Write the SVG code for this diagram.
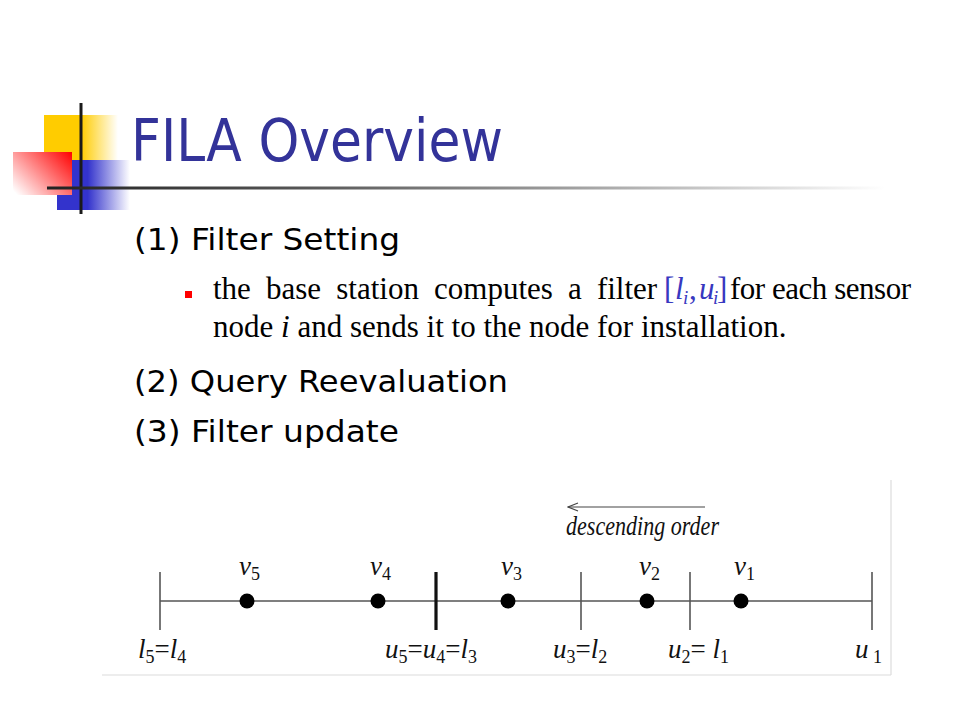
<svg xmlns="http://www.w3.org/2000/svg" width="960" height="720" viewBox="0 0 960 720">
<defs>
<style>
.title{font-family:"DejaVu Sans","Liberation Sans",sans-serif;font-size:58px;fill:#333399}
.head{font-family:"DejaVu Sans","Liberation Sans",sans-serif;font-size:30px;fill:#000}
.body{font-family:"Liberation Serif","Times New Roman",serif;font-size:31px;fill:#000}
.it{font-style:italic}
.blue{fill:#3838c0}
.bsub{font-size:19px;font-style:italic}
.lab{font-family:"Liberation Serif","Times New Roman",serif;font-size:27px;font-style:italic;fill:#111}
.sub{font-size:18px;font-style:normal}
.up{font-style:normal}
.axis{stroke:#555;stroke-width:1.6;fill:none}
.tick{stroke:#555;stroke-width:1.6}
.thick{stroke:#111;stroke-width:3.2}
.dot{fill:#000}
</style>
<linearGradient id="gY" gradientUnits="userSpaceOnUse" x1="44" y1="0" x2="118" y2="0">
<stop offset="0" stop-color="#FFCC00"/><stop offset="0.5" stop-color="#FFCC00"/><stop offset="1" stop-color="#FFCC00" stop-opacity="0"/>
</linearGradient>
<linearGradient id="gB" gradientUnits="userSpaceOnUse" x1="57" y1="0" x2="130" y2="0">
<stop offset="0" stop-color="#3333CC"/><stop offset="0.42" stop-color="#3333CC"/><stop offset="1" stop-color="#3333CC" stop-opacity="0"/>
</linearGradient>
<linearGradient id="gR" gradientUnits="userSpaceOnUse" x1="72" y1="152" x2="22" y2="200">
<stop offset="0" stop-color="#FF0000"/><stop offset="1" stop-color="#FFFFFF"/>
</linearGradient>
<linearGradient id="gL" gradientUnits="userSpaceOnUse" x1="47" y1="0" x2="885" y2="0">
<stop offset="0" stop-color="#222"/><stop offset="0.3" stop-color="#555"/><stop offset="0.6" stop-color="#999"/><stop offset="0.85" stop-color="#d8d8d8"/><stop offset="1" stop-color="#fff"/>
</linearGradient>
<marker id="open" viewBox="0 0 12 10" refX="11" refY="5" markerWidth="12" markerHeight="10" markerUnits="userSpaceOnUse" orient="auto">
<path d="M1,1 L11,5 L1,9" fill="none" stroke="#444" stroke-width="1.2"/>
</marker>
</defs>
<rect width="960" height="720" fill="#fff"/>

<g id="logo">
<rect x="44" y="115" width="74" height="45" fill="url(#gY)"/>
<rect x="57" y="160" width="73" height="50" fill="url(#gB)"/>
<rect x="13" y="152" width="59" height="43" fill="url(#gR)"/>
<line x1="81" y1="103" x2="81" y2="214" stroke="#1a1a1a" stroke-width="3"/>
<line x1="47" y1="188" x2="885" y2="188" stroke="url(#gL)" stroke-width="3"/>
</g>

<g id="title">
<text class="title" x="131" y="161" textLength="372" lengthAdjust="spacingAndGlyphs">FILA Overview</text>
</g>

<g id="step1">
<text class="head" x="134" y="250" textLength="266" lengthAdjust="spacingAndGlyphs">(1) Filter Setting</text>
</g>
<g id="bullet">
<rect x="185" y="291" width="7" height="7" fill="#FF0000"/>
<text class="body" x="213" y="299" word-spacing="7.4">the base station computes a filter</text>
<text class="body blue" y="299"><tspan x="664">[</tspan><tspan class="it" x="675">l</tspan><tspan class="bsub" x="683" dy="5">i</tspan><tspan x="689" dy="-5">,</tspan><tspan class="it" x="699">u</tspan><tspan class="bsub" x="713" dy="5">i</tspan><tspan x="717" dy="-5">]</tspan></text>
<text class="body" x="730" y="299" textLength="181" lengthAdjust="spacing">for each sensor</text>
<text class="body" x="213" y="337" font-size="31.5">node <tspan class="it">i</tspan> and sends it to the node for installation.</text>
</g>
<g id="step2">
<text class="head" x="134" y="392" textLength="374" lengthAdjust="spacingAndGlyphs">(2) Query Reevaluation</text>
</g>
<g id="step3">
<text class="head" x="134" y="442" textLength="265" lengthAdjust="spacingAndGlyphs">(3) Filter update</text>
</g>

<g id="figure-frame" stroke="#dcdcdc" stroke-width="1.2">
<line x1="891" y1="480" x2="891" y2="675"/>
<line x1="102" y1="675" x2="891" y2="675"/>
</g>

<g id="connectors">
<line class="axis" x1="160" y1="601" x2="872" y2="601"/>
<line x1="705" y1="507" x2="568" y2="507" stroke="#444" stroke-width="1.2" marker-end="url(#open)"/>
</g>

<g id="order-label">
<text class="lab" x="566" y="535" font-size="20" textLength="153" lengthAdjust="spacingAndGlyphs">descending order</text>
</g>

<g id="ticks">
<line id="tick-l5" class="tick" x1="160" y1="572" x2="160" y2="630"/>
<line id="tick-u5" class="thick" x1="436" y1="572" x2="436" y2="630"/>
<line id="tick-u3" class="tick" x1="581" y1="572" x2="581" y2="630"/>
<line id="tick-u2" class="tick" x1="690" y1="572" x2="690" y2="630"/>
<line id="tick-u1" class="tick" x1="872" y1="572" x2="872" y2="630"/>
</g>

<g id="v5"><circle class="dot" cx="247" cy="601" r="7.5"/><text class="lab" x="239" y="575">v<tspan class="sub" dy="5">5</tspan></text></g>
<g id="v4"><circle class="dot" cx="378" cy="601" r="7.5"/><text class="lab" x="370" y="575">v<tspan class="sub" dy="5">4</tspan></text></g>
<g id="v3"><circle class="dot" cx="508" cy="601" r="7.5"/><text class="lab" x="501" y="575">v<tspan class="sub" dy="5">3</tspan></text></g>
<g id="v2"><circle class="dot" cx="647" cy="601" r="7.5"/><text class="lab" x="639" y="575">v<tspan class="sub" dy="5">2</tspan></text></g>
<g id="v1"><circle class="dot" cx="741" cy="601" r="7.5"/><text class="lab" x="734" y="575">v<tspan class="sub" dy="5">1</tspan></text></g>

<g id="bound-labels">
<text class="lab" x="138" y="658">l<tspan class="sub" dy="5">5</tspan><tspan class="up" dy="-5">=</tspan>l<tspan class="sub" dy="5">4</tspan></text>
<text class="lab" x="385" y="658">u<tspan class="sub" dy="5">5</tspan><tspan class="up" dy="-5">=</tspan>u<tspan class="sub" dy="5">4</tspan><tspan class="up" dy="-5">=</tspan>l<tspan class="sub" dy="5">3</tspan></text>
<text class="lab" x="553" y="658">u<tspan class="sub" dy="5">3</tspan><tspan class="up" dy="-5">=</tspan>l<tspan class="sub" dy="5">2</tspan></text>
<text class="lab" x="668" y="658">u<tspan class="sub" dy="5">2</tspan><tspan class="up" dy="-5">= </tspan>l<tspan class="sub" dy="5">1</tspan></text>
<text class="lab" x="855" y="658">u<tspan class="sub" dy="5"> 1</tspan></text>
</g>
</svg>
